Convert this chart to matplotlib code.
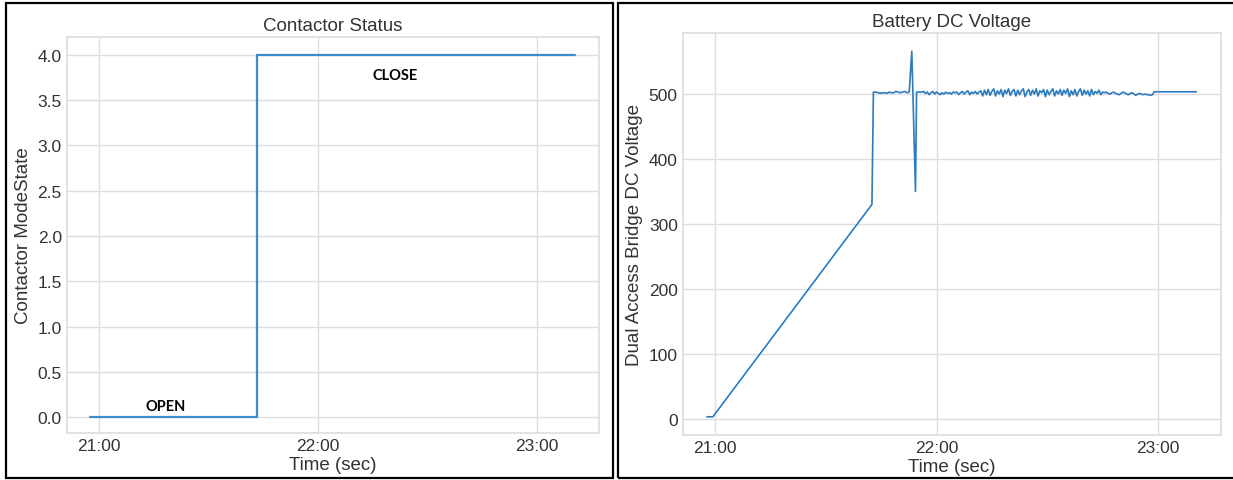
import matplotlib
matplotlib.use("Agg")
import matplotlib.pyplot as plt
import numpy as np
from matplotlib.patches import Rectangle
from matplotlib.ticker import FuncFormatter, MultipleLocator

#-------------------------------
#         data (time in minutes, 1260 = 21:00)
#-------------------------------
contactor_time = [1257.7, 1303.3, 1303.3, 1390.4]
contactor_state = [0, 0, 4, 4]

# ramp + jump
ramp_time = [1257.8, 1259.4, 1302.5, 1302.9]
ramp_volt = [3, 3, 330, 503]

# before the spike
pre_volt = [503, 503, 502, 501, 502, 502, 501, 503, 502, 502, 504, 503, 502, 503, 504, 502, 503]
pre_start = 1303.0

# spike
spike_time = [1313.3, 1314.3, 1314.6]
spike_volt = [566, 350, 503]

# after the spike, 0.5 min samples
mild_volt = [503, 503, 503, 504, 501, 503, 499, 502, 504, 500, 503, 501, 499, 502, 500, 503, 501,
             502, 500, 503, 502, 503, 499, 502, 504, 500, 503, 505, 499, 503, 501, 504, 500, 503]
dense_volt = [505, 497, 506, 499, 507, 498, 504, 508, 497, 505, 500, 507, 496, 506, 501, 508, 498,
              504, 507, 497, 506, 499, 505, 508, 496, 503, 507, 498, 506, 500, 508, 497, 505, 502,
              507, 496, 506, 499, 504, 508, 497, 505, 500, 507, 498, 506, 501, 508, 496, 505, 499,
              507, 497, 504, 508, 498, 506, 500, 505, 497, 507, 499, 504, 501, 506, 499, 503]
calm_volt = [502, 503, 501, 500, 502, 503, 501, 500, 499, 501, 503, 502, 500, 499, 501, 502, 500,
             498, 500, 501, 500, 499, 500, 499, 499, 498, 499]
noise_start = 1315.0

end_time = [1379.0, 1390.4]
end_volt = [503.5, 503.5]

#-------------------------------
#         assemble voltage series
#-------------------------------
pre_time = list(pre_start + 0.6 * np.arange(len(pre_volt)))
noise_volt = mild_volt + dense_volt + calm_volt
noise_time = list(noise_start + 0.5 * np.arange(len(noise_volt)))

v_time = ramp_time + pre_time + spike_time + noise_time + end_time
v_volt = ramp_volt + pre_volt + spike_volt + noise_volt + end_volt

#-------------------------------
#         style
#-------------------------------
plt.style.use("seaborn-v0_8-whitegrid")
plt.rcParams["font.family"] = ["Liberation Sans", "DejaVu Sans"]
plt.rcParams["text.color"] = "#333333"
plt.rcParams["axes.labelcolor"] = "#333333"
plt.rcParams["xtick.color"] = "#333333"
plt.rcParams["ytick.color"] = "#333333"


def hhmm(v, pos):
    return "%d:%02d" % (int(v // 60), int(round(v % 60)))


W, H = 1233, 481
fig = plt.figure(figsize=(W / 100, H / 100), dpi=100)

ax1 = fig.add_axes([66.7 / W, 1 - 434 / H, (599 - 66.7) / W, (434 - 38) / H])
ax2 = fig.add_axes([682.6 / W, 1 - 436 / H, (1220.7 - 682.6) / W, (436 - 34) / H])

ax1.plot(contactor_time, contactor_state, color="#3c8dcc", lw=1.6)
ax1.set_title("Contactor Status", fontsize=13.5, pad=5)
ax1.set_xlabel("Time (sec)", fontsize=13.5, labelpad=2)
ax1.set_ylabel("Contactor ModeState", fontsize=13.5)
ax1.set_ylim(-0.175, 4.195)
ax1.set_yticks(np.arange(0, 4.01, 0.5))
ax1.text(1278.4, 0.125, "OPEN", family=["Lato", "DejaVu Sans"], weight="bold",
         fontsize=10.5, color="black", ha="center", va="center")
ax1.text(1341.1, 3.776, "CLOSE", family=["Lato", "DejaVu Sans"], weight="bold",
         fontsize=10.5, color="black", ha="center", va="center")

ax2.plot(v_time, v_volt, color="#2b7bbf", lw=1.2)
ax2.set_title("Battery DC Voltage", fontsize=13.5, pad=5)
ax2.set_xlabel("Time (sec)", fontsize=13.5, labelpad=2)
ax2.set_ylabel("Dual Access Bridge DC Voltage", fontsize=13.5)
ax2.set_ylim(-25, 594)
ax2.set_yticks([0, 100, 200, 300, 400, 500])

for ax in (ax1, ax2):
    ax.set_xlim(1251.2, 1397.0)
    ax.xaxis.set_major_locator(MultipleLocator(60))
    ax.xaxis.set_major_formatter(FuncFormatter(hhmm))
    ax.tick_params(axis="both", labelsize=12.5)
    ax.grid(True, color="#dddddd", lw=1)
    for s in ax.spines.values():
        s.set_color("#dddddd")
        s.set_linewidth(1.2)

# panel borders
fig.patches.append(Rectangle((6 / W, 2 / H), (612.7 - 6) / W, (475 - 2) / H + 2 / H,
                             transform=fig.transFigure, fill=False, ec="black", lw=1.6))
fig.patches.append(Rectangle((618.3 / W, 2 / H), (1245 - 618.3) / W, (475 - 2) / H + 2 / H,
                             transform=fig.transFigure, fill=False, ec="black", lw=1.6))

fig.savefig("out.png", dpi=100)
